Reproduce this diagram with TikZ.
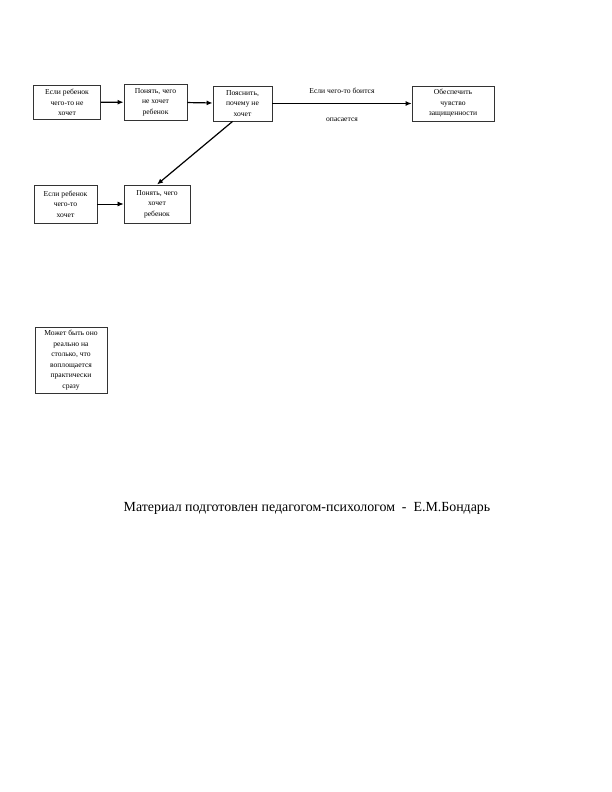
\documentclass[tikz,border=0pt]{standalone}
\usepackage{fontspec}
\setmainfont{Liberation Serif}
\usepackage{tikz}
\usetikzlibrary{arrows.meta}

\tikzset{
  blk/.style={rectangle, draw=black!80, line width=.9pt, align=center, font=\fontsize{7.6}{10.5}\selectfont, inner sep=1pt},
  arr/.style={-{Latex[length=6pt, width=5pt]}, line width=1.2pt}
}

\begin{document}
\begin{tikzpicture}[x=1pt, y=-1pt]
  \useasboundingbox (0, 0) rectangle (612, 792);

  \node[blk, minimum width=67pt, minimum height=34pt] (wantnot) at (67, 102.5) {Если ребенок\\чего-то не\\хочет};
  \node[blk, minimum width=63pt, minimum height=36pt] (graspnot) at (155.5, 102) {Понять, чего\\не хочет\\ребенок};
  \node[blk, minimum width=59pt, minimum height=35pt] (explain) at (242.5, 103.5) {Пояснить,\\почему не\\хочет};
  \node[blk, minimum width=82pt, minimum height=35pt] (safety) at (453, 103.5) {Обеспечить\\чувство\\защищенности};

  \node[blk, minimum width=63pt, minimum height=38pt] (want) at (65.5, 204) {Если ребенок\\чего-то\\хочет};
  \node[blk, minimum width=66pt, minimum height=38pt] (grasp) at (157, 204) {Понять, чего\\хочет\\ребенок};

  \node[blk, minimum width=72pt, minimum height=66pt] (real) at (71, 360) {Может быть оно\\реально на\\столько, что\\воплощается\\практически\\сразу};

  \draw[arr] (wantnot) -- (graspnot);
  \draw[arr] (graspnot) -- (explain);
  \draw[arr, line width=.9pt] (explain) -- node[above=6pt, font=\fontsize{7.6}{9}\selectfont] {Если чего-то боится}
    node[below=11pt, font=\fontsize{7.6}{9}\selectfont] {опасается} (safety);
  \draw[arr] (explain.south west) ++(20, 0) coordinate (diag) (diag) -- (grasp.north);
  \draw[arr, line width=.8pt] (want) -- (grasp);

  \node[font=\fontsize{13.9}{16}\selectfont] (author) at (307, 508) {Материал подготовлен педагогом-психологом \ - \ Е.М.Бондарь};
\end{tikzpicture}
\end{document}
